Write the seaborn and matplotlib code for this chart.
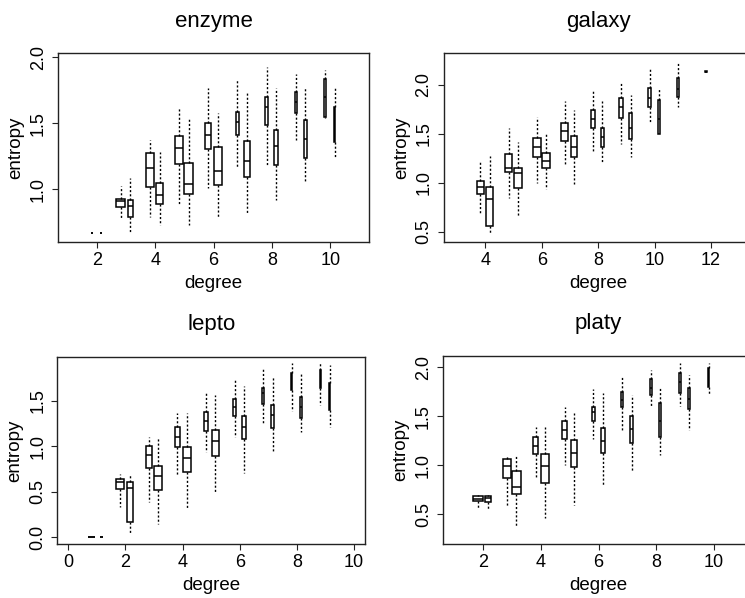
import numpy as np
import pandas as pd
import seaborn as sns
import matplotlib
matplotlib.use('Agg')
import matplotlib.pyplot as plt

# Box summaries: (whisker low, q1, median, q3, whisker high, box width)
# "a" = left box of each pair, "b" = right box; None = no box drawn
enzyme_deg = [2, 3, 4, 5, 6, 7, 8, 9, 10]
enzyme_a = [(0.667, 0.667, 0.667, 0.667, 0.667, 0.07),
            (0.78, 0.868, 0.914, 0.929, 1.025, 0.30),
            (0.79, 1.02, 1.164, 1.273, 1.373, 0.30),
            (0.88, 1.19, 1.315, 1.406, 1.62, 0.26),
            (1.01, 1.305, 1.41, 1.5, 1.765, 0.19),
            (1.164, 1.41, 1.508, 1.583, 1.83, 0.12),
            (1.18, 1.49, 1.626, 1.70, 1.93, 0.09),
            (1.373, 1.575, 1.66, 1.74, 1.87, 0.07),
            (1.54, 1.55, 1.70, 1.835, 1.9, 0.06)]
enzyme_b = [(0.667, 0.667, 0.667, 0.667, 0.667, 0.05),
            (0.68, 0.79, 0.873, 0.919, 1.09, 0.19),
            (0.73, 0.886, 0.957, 1.045, 1.28, 0.26),
            (0.73, 0.962, 1.04, 1.2, 1.533, 0.30),
            (0.785, 1.03, 1.14, 1.318, 1.58, 0.26),
            (0.818, 1.096, 1.217, 1.366, 1.747, 0.19),
            (0.919, 1.184, 1.33, 1.45, 1.765, 0.14),
            (1.058, 1.235, 1.38, 1.525, 1.765, 0.09),
            (1.247, 1.36, 1.5, 1.626, 1.777, 0.06)]

galaxy_deg = [4, 5, 6, 7, 8, 9, 10, 11, 12]
galaxy_a = [(0.688, 0.882, 0.96, 1.021, 1.223, 0.24),
            (0.841, 1.113, 1.154, 1.295, 1.557, 0.26),
            (0.995, 1.267, 1.369, 1.455, 1.676, 0.28),
            (1.192, 1.43, 1.53, 1.608, 1.836, 0.25),
            (1.312, 1.563, 1.652, 1.744, 1.949, 0.14),
            (1.394, 1.666, 1.778, 1.864, 2.034, 0.13),
            (1.608, 1.778, 1.87, 1.973, 2.177, 0.08),
            (1.778, 1.88, 1.96, 2.068, 2.238, 0.06),
            (2.13, 2.13, 2.136, 2.142, 2.142, 0.05)]
galaxy_b = [(0.473, 0.558, 0.831, 0.96, 1.274, 0.25),
            (0.653, 0.95, 1.097, 1.148, 1.414, 0.28),
            (0.937, 1.148, 1.223, 1.302, 1.506, 0.26),
            (0.984, 1.26, 1.363, 1.475, 1.744, 0.20),
            (1.199, 1.369, 1.471, 1.563, 1.836, 0.12),
            (1.267, 1.445, 1.56, 1.711, 1.898, 0.08),
            (1.496, 1.496, 1.65, 1.847, 1.973, 0.05),
            (1.567, 1.567, 1.567, 1.567, 1.567, 0.03),
            None]

lepto_deg = [1, 2, 3, 4, 5, 6, 7, 8, 9]
lepto_a = [(0.0, 0.0, 0.0, 0.0, 0.0, 0.26),
           (0.339, 0.529, 0.606, 0.643, 0.698, 0.29),
           (0.394, 0.76, 0.903, 1.005, 1.10, 0.21),
           (0.676, 0.998, 1.10, 1.218, 1.372, 0.175),
           (0.936, 1.174, 1.284, 1.383, 1.584, 0.14),
           (1.108, 1.339, 1.438, 1.518, 1.738, 0.09),
           (1.247, 1.463, 1.584, 1.639, 1.848, 0.07),
           (1.394, 1.621, 1.72, 1.811, 1.921, 0.05),
           (1.456, 1.639, 1.76, 1.841, 1.914, 0.035)]
lepto_b = [(0.0, 0.0, 0.0, 0.0, 0.0, 0.10),
           (0.053, 0.167, 0.547, 0.613, 0.698, 0.21),
           (0.148, 0.522, 0.676, 0.789, 1.10, 0.27),
           (0.321, 0.723, 0.874, 0.998, 1.372, 0.26),
           (0.503, 0.899, 1.064, 1.181, 1.566, 0.22),
           (0.705, 1.079, 1.218, 1.339, 1.665, 0.14),
           (0.954, 1.2, 1.346, 1.457, 1.775, 0.12),
           (1.163, 1.31, 1.43, 1.547, 1.822, 0.06),
           (1.211, 1.401, 1.55, 1.694, 1.896, 0.035)]

platy_deg = [2, 3, 4, 5, 6, 7, 8, 9, 10]
platy_a = [(0.561, 0.636, 0.656, 0.69, 0.697, 0.34),
           (0.578, 0.867, 0.996, 1.064, 1.105, 0.30),
           (0.867, 1.115, 1.2, 1.286, 1.388, 0.18),
           (1.003, 1.268, 1.36, 1.455, 1.598, 0.18),
           (1.265, 1.455, 1.547, 1.592, 1.776, 0.12),
           (1.36, 1.592, 1.67, 1.751, 1.898, 0.07),
           (1.605, 1.717, 1.79, 1.878, 1.972, 0.05),
           (1.605, 1.735, 1.85, 1.945, 2.041, 0.06),
           (1.717, 1.796, 1.9, 1.99, 2.047, 0.06)]
platy_b = [(0.558, 0.629, 0.663, 0.69, 0.70, 0.20),
           (0.373, 0.707, 0.775, 0.945, 1.105, 0.30),
           (0.459, 0.823, 0.993, 1.115, 1.388, 0.29),
           (0.595, 0.98, 1.122, 1.258, 1.531, 0.22),
           (0.799, 1.122, 1.251, 1.378, 1.735, 0.16),
           (0.935, 1.231, 1.37, 1.505, 1.717, 0.12),
           (1.105, 1.292, 1.45, 1.633, 1.802, 0.07),
           (1.36, 1.571, 1.68, 1.785, 1.922, 0.07),
           None]

panels = [
    ('enzyme', enzyme_deg, enzyme_a, enzyme_b, [2, 4, 6, 8, 10], [1.0, 1.5, 2.0],
     (0.67, 11.33), (0.60, 2.03), [58, 53.3, 311, 189]),
    ('galaxy', galaxy_deg, galaxy_a, galaxy_b, [4, 6, 8, 10, 12], [0.5, 1.0, 1.5, 2.0],
     (2.52, 13.48), (0.39, 2.324), [443.7, 53.3, 309, 189]),
    ('lepto', lepto_deg, lepto_a, lepto_b, [0, 2, 4, 6, 8, 10], [0.0, 0.5, 1.0, 1.5],
     (-0.385, 10.385), (-0.075, 1.987), [57.3, 356.7, 307.7, 187.6]),
    ('platy', platy_deg, platy_a, platy_b, [2, 4, 6, 8, 10], [0.5, 1.0, 1.5, 2.0],
     (0.6, 11.4), (0.194, 2.118), [443, 355.7, 311, 188.6]),
]

sns.set_theme(style='ticks', rc={'text.color': 'black', 'axes.labelcolor': 'black',
                                 'xtick.color': 'black', 'ytick.color': 'black',
                                 'axes.edgecolor': 'black'})
plt.rcParams['font.family'] = ['Liberation Sans', 'DejaVu Sans']

W, H = 745, 598
fig = plt.figure(figsize=(W / 100, H / 100), dpi=100)


def to_stats(rows, degs, shift):
    st, pos, wid = [], [], []
    for d, r in zip(degs, rows):
        if r is None:
            continue
        st.append(dict(whislo=r[0], q1=r[1], med=r[2], q3=r[3], whishi=r[4], fliers=[]))
        pos.append(d + shift)
        wid.append(r[5])
    return st, pos, wid


for title, degs, rows_a, rows_b, xt, yt, xl, yl, box in panels:
    left, top, w, h = box
    ax = fig.add_axes([left / W, 1 - (top + h) / H, w / W, h / H])
    for rows, shift in [(rows_a, -0.18), (rows_b, 0.15)]:
        st, pos, wid = to_stats(rows, degs, shift)
        ax.bxp(st, positions=pos, widths=wid, showcaps=False, showfliers=False,
               patch_artist=True, manage_ticks=False,
               boxprops=dict(facecolor='white', edgecolor='black', linewidth=1.1),
               whiskerprops=dict(color='black', linewidth=1.0, linestyle=(0, (1.5, 1.5))),
               medianprops=dict(color='black', linewidth=1.1))
    ax.set_xlim(*xl)
    ax.set_ylim(*yl)
    ax.set_xticks(xt)
    ax.set_xticklabels([str(v) for v in xt])
    ax.set_yticks(yt)
    ax.set_yticklabels(['%.1f' % v for v in yt], rotation=90, va='center')
    ax.tick_params(axis='both', labelsize=13, length=4, width=0.8, color='#222222', pad=3)
    ax.tick_params(axis='y', pad=4)
    for sp in ax.spines.values():
        sp.set_visible(True)
        sp.set_linewidth(1.0)
        sp.set_color('#222222')
    ax.set_title(title, fontsize=16, pad=19)
    ax.set_xlabel('degree', fontsize=13.5, labelpad=4)
    ax.set_ylabel('entropy', fontsize=13.5, labelpad=4)
    ax.grid(False)

fig.savefig('out.png', dpi=100, facecolor='white')
